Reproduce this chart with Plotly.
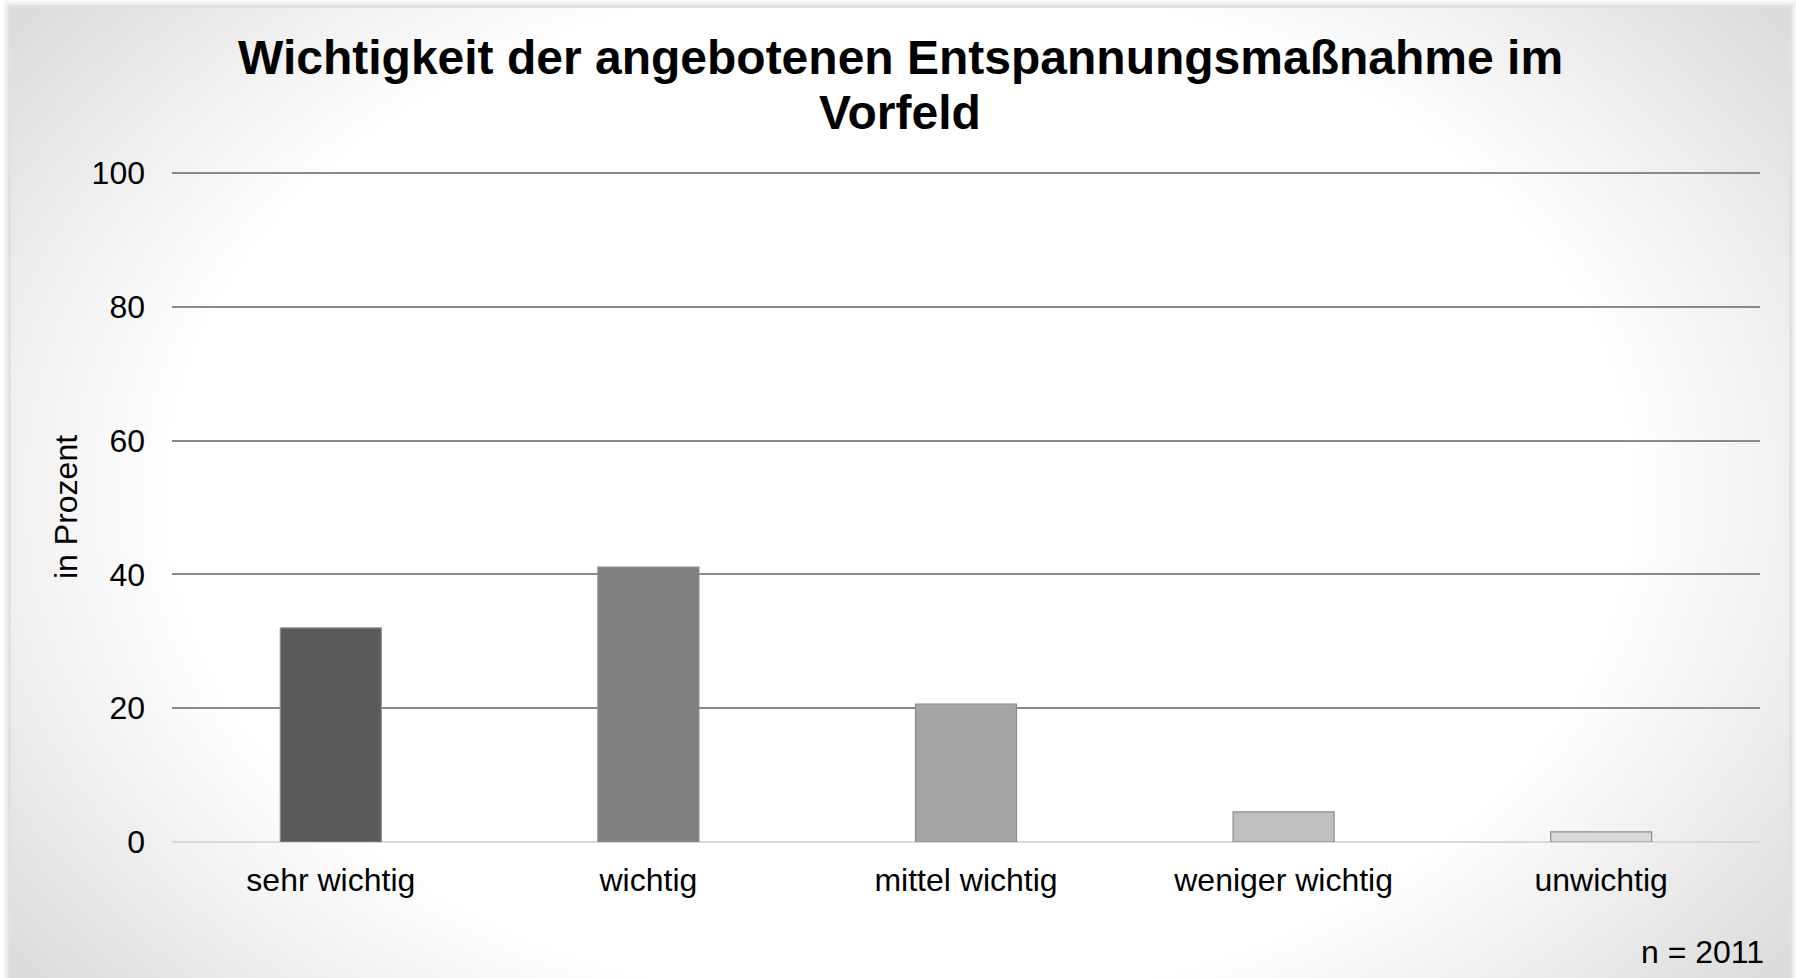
import plotly.graph_objects as go

# Daten
kategorien = ["sehr wichtig", "wichtig", "mittel wichtig", "weniger wichtig", "unwichtig"]
prozent = [32.0, 41.1, 20.6, 4.5, 1.5]
balken_farben = ["#5a5a5a", "#7f7f7f", "#a5a5a5", "#bfbfbf", "#d9d9d9"]
y_ticks = [0, 20, 40, 60, 80, 100]

W, H = 1796, 978
FONT = "Liberation Sans, Arial, sans-serif"

# Rahmen des Diagrammbereichs (Pixel)
box_l, box_r, box_t = 11, 1789, 8
bx0, bx1 = box_l / W, box_r / W
by1 = 1 - box_t / H

# Plotbereich (Pixel): y=0 bei 842, y=100 bei 173
pl, pr, pb = 172, 1760, 842
px_per_unit = (842 - 173) / 100
y_max = 100.5
pt = pb - y_max * px_per_unit

fig = go.Figure()

# Hintergrund mit radialem Verlauf (weiß in der Mitte, grau in den Ecken)
fig.add_trace(go.Scatter(
    x=[-0.12, 1.12, 1.12, -0.12, -0.12],
    y=[-0.3, -0.3, 1.3, 1.3, -0.3],
    mode="lines", fill="toself",
    line=dict(width=0, color="rgba(0,0,0,0)"),
    fillgradient=dict(
        type="radial",
        colorscale=[[0, "#ffffff"], [0.66, "#ffffff"], [0.8, "#f1f1f1"], [1.0, "#dcdcdc"]],
    ),
    hoverinfo="skip", showlegend=False,
    xaxis="x", yaxis="y",
))

# Balken
fig.add_trace(go.Bar(
    x=kategorien, y=prozent,
    marker=dict(color=balken_farben, line=dict(color="#8c8c8c", width=1.2)),
    showlegend=False,
    xaxis="x2", yaxis="y2",
))

# Schatten um den Rahmen
shadow = ["#c8c8c8", "#d4d4d4", "#dedede", "#e6e6e6", "#ececec", "#f2f2f2", "#f7f7f7"]
for i, c in enumerate(shadow):
    o = i + 1
    fig.add_shape(
        type="rect", xref="paper", yref="paper",
        x0=(box_l - o) / W, x1=(box_r + o) / W,
        y0=-0.05, y1=1 - (box_t - o) / H,
        line=dict(color=c, width=1), fillcolor="rgba(0,0,0,0)",
        layer="below",
    )

# Titel (zwei Zeilen)
for txt, yc in [("Wichtigkeit der angebotenen Entspannungsmaßnahme im", 57), ("Vorfeld", 112)]:
    fig.add_annotation(
        text=f"<b>{txt}</b>",
        xref="paper", yref="paper", x=900 / W, y=1 - yc / H,
        xanchor="center", yanchor="middle", showarrow=False,
        font=dict(family=FONT, size=48, color="#000000"),
    )

fig.add_annotation(
    text="in Prozent", textangle=-90,
    xref="paper", yref="paper", x=66 / W, y=1 - 507 / H,
    xanchor="center", yanchor="middle", showarrow=False,
    font=dict(family=FONT, size=32, color="#000000"),
)
fig.add_annotation(
    text="n = 2011",
    xref="paper", yref="paper", x=1766 / W, y=1 - 952 / H,
    xanchor="right", yanchor="middle", showarrow=False,
    font=dict(family=FONT, size=32, color="#000000"),
)

fig.update_layout(
    width=W, height=H,
    margin=dict(l=0, r=0, t=0, b=0, autoexpand=False),
    paper_bgcolor="#ffffff",
    plot_bgcolor="rgba(0,0,0,0)",
    bargap=0.682,
    showlegend=False,
    font=dict(family=FONT, color="#000000"),
    xaxis=dict(domain=[bx0, bx1], range=[0, 1], visible=False, fixedrange=True, automargin=False),
    yaxis=dict(domain=[0, by1], range=[0, 1], visible=False, fixedrange=True, automargin=False),
    xaxis2=dict(
        domain=[pl / W, pr / W], anchor="y2", automargin=False,
        showgrid=False, showline=False, ticks="",
        tickfont=dict(size=32, color="#000000"),
        ticklabelstandoff=16,
    ),
    yaxis2=dict(
        domain=[1 - pb / H, 1 - pt / H], anchor="x2", automargin=False,
        range=[0, y_max], tickvals=y_ticks,
        showgrid=True, gridcolor="#898989", gridwidth=1.6,
        zeroline=True, zerolinecolor="#d9d9d9", zerolinewidth=1.6,
        showline=False, ticks="",
        tickfont=dict(size=32, color="#000000"),
        ticklabelstandoff=26,
    ),
)

fig.write_html(
    "out.html",
    config={"displayModeBar": False},
    post_script="document.body.style.margin='0px';",
)
